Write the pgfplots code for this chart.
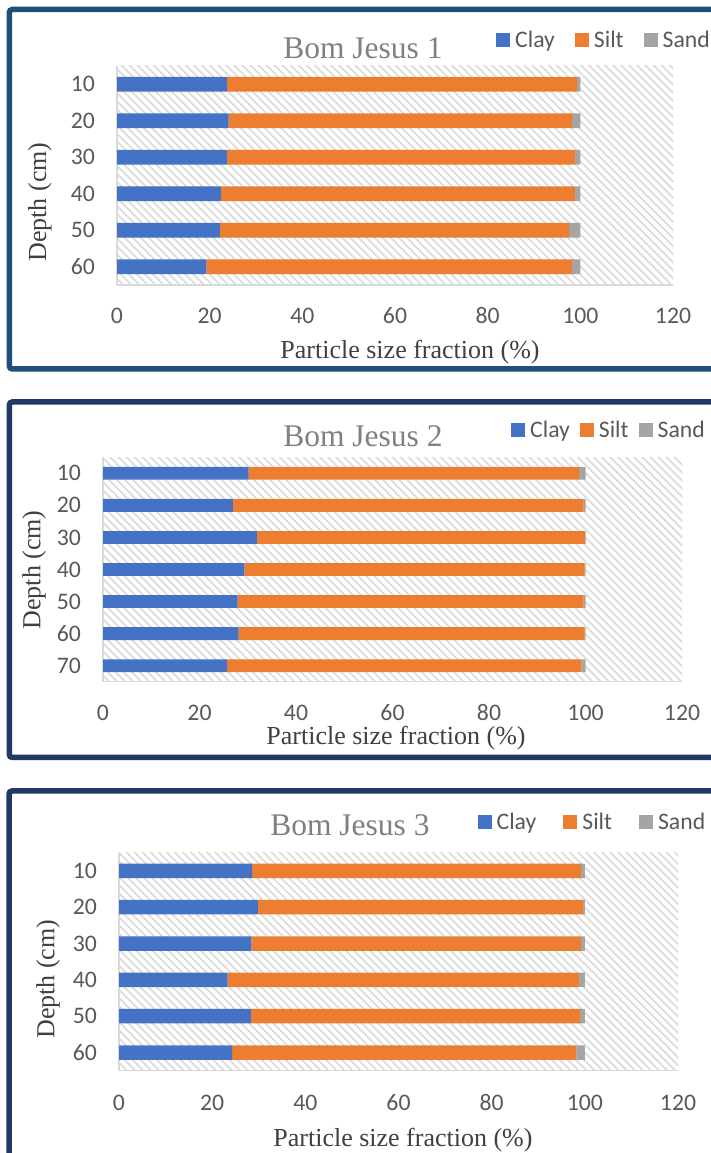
\documentclass[border=0pt]{standalone}
\usepackage{fontspec}
\setmainfont{Liberation Serif}
\newfontfamily\calib{Carlito}
\newfontfamily\timesf{Liberation Serif}
\usepackage{pgfplots}
\pgfplotsset{compat=1.18}
\usepackage{pgfplotstable}
\usetikzlibrary{patterns.meta}

\definecolor{clay}{HTML}{4472C4}
\definecolor{silt}{HTML}{ED7D31}
\definecolor{sand}{HTML}{A5A5A5}
\definecolor{tickgray}{HTML}{595959}
\definecolor{titlegray}{HTML}{808080}
\definecolor{labgray}{HTML}{404040}
\definecolor{frameA}{HTML}{1F4E79}
\definecolor{frameB}{HTML}{1F3864}

% depth profiles, pos = row from the bottom
\pgfplotstableread{
pos depth clay silt sand
6 10 23.7 75.6 0.7
5 20 24.1 74.1 1.8
4 30 23.7 75.1 1.2
3 40 22.4 76.4 1.2
2 50 22.2 75.4 2.4
1 60 19.3 78.9 1.8
}\bjone
\pgfplotstableread{
pos depth clay silt sand
7 10 30.2 68.5 1.3
6 20 26.9 72.7 0.4
5 30 31.9 68.0 0.1
4 40 29.3 70.5 0.2
3 50 27.9 71.7 0.4
2 60 28.1 71.7 0.2
1 70 25.7 73.5 0.8
}\bjtwo
\pgfplotstableread{
pos depth clay silt sand
6 10 28.6 70.6 0.8
5 20 29.8 69.8 0.4
4 30 28.4 70.8 0.8
3 40 23.3 75.4 1.3
2 50 28.3 70.7 1.0
1 60 24.3 73.9 1.8
}\bjthree

\newcommand\tickfont{\calib\fontsize{23.7}{28}\selectfont}

\pgfplotsset{
  bjstyle/.style={
    scale only axis,
    anchor=south west,
    xbar stacked,
    bar width=0.4,
    xmin=0, xmax=120,
    xtick={0,20,...,120},
    axis x line*=bottom, axis y line*=left,
    axis line style={-, draw=gray!30, line width=1.5pt},
    every outer x axis line/.append style={-},
    every outer y axis line/.append style={-},
    major tick length=0pt,
    tick style={draw=none},
    /pgf/number format/assume math mode=true,
    tick label style={font=\tickfont, text=tickgray},
    x tick label style={anchor=center, inner sep=0pt, yshift=-31pt},
    y tick label style={anchor=east, inner sep=0pt, xshift=-22pt},
    axis background/.style={pattern={Lines[angle=-45,distance=5.7pt,line width=1.6pt]}, pattern color=gray!30},
    label style={font=\timesf\fontsize{26}{30}\selectfont, text=labgray, inner sep=0pt},
    xlabel={Particle size fraction (\%)},
    ylabel={Depth (cm)},
    title style={font=\timesf\fontsize{31.5}{36}\selectfont, text=titlegray, anchor=center},
    legend style={draw=none, fill=none, legend columns=-1, inner sep=0pt,
      font=\tickfont, text=tickgray, anchor=west,
      nodes={inner sep=0pt},
      /tikz/every odd column/.append style={column sep=5pt}},
    legend image code/.code={\fill[##1] (0pt,-7pt) rectangle (14pt,7pt);},
  }
}

\begin{document}
\begin{tikzpicture}[x=1pt,y=1pt]
\useasboundingbox (0,0) rectangle (711,1153);
\fill[white] (0,0) rectangle (711,1153);
\begin{scope}
\clip (0,0) rectangle (711,1153);
\draw[frameA, line width=5.5pt, rounded corners=3pt] (9.3,1143.5) rectangle (730,784);
\draw[frameB, line width=5.5pt, rounded corners=3pt] (9.3,751) rectangle (730,395.5);
\draw[frameB, line width=5.5pt, rounded corners=3pt] (9.0,362) rectangle (730,-20);
\end{scope}

% Bom Jesus 1
\begin{axis}[bjstyle, at={(117pt,868pt)}, width=556pt, height=219pt,
  ymin=0.5, ymax=6.5, ytick={1,...,6}, yticklabels={60,50,40,30,20,10},
  title={Bom Jesus 1}, title style={at={(axis description cs:0.4424,1.055)}},
  xlabel style={at={(axis description cs:0.527,-0.306)}, anchor=center},
  ylabel style={at={(axis description cs:-0.1385,0.379)}, anchor=center},
  legend style={at={(axis description cs:0.6817,1.1187)},
    /tikz/every even column/.append style={column sep=20pt}}]
\addplot[fill=clay, draw=none] table[x=clay, y=pos] {\bjone};
\addplot[fill=silt, draw=none] table[x=silt, y=pos] {\bjone};
\addplot[fill=sand, draw=none] table[x=sand, y=pos] {\bjone};
\legend{Clay,Silt,Sand}
\end{axis}

% Bom Jesus 2
\begin{axis}[bjstyle, at={(103pt,471.3pt)}, width=579pt, height=224.4pt,
  ymin=0.5, ymax=7.5, ytick={1,...,7}, yticklabels={70,60,50,40,30,20,10},
  title={Bom Jesus 2}, title style={at={(axis description cs:0.449,1.065)}},
  xlabel style={at={(axis description cs:0.506,-0.253)}, anchor=center},
  ylabel style={at={(axis description cs:-0.119,0.498)}, anchor=center},
  legend style={at={(axis description cs:0.7047,1.1217)},
    /tikz/every even column/.append style={column sep=10pt}}]
\addplot[fill=clay, draw=none] table[x=clay, y=pos] {\bjtwo};
\addplot[fill=silt, draw=none] table[x=silt, y=pos] {\bjtwo};
\addplot[fill=sand, draw=none] table[x=sand, y=pos] {\bjtwo};
\legend{Clay,Silt,Sand}
\end{axis}

% Bom Jesus 3
\begin{axis}[bjstyle, at={(119pt,82.3pt)}, width=559pt, height=218pt,
  ymin=0.5, ymax=6.5, ytick={1,...,6}, yticklabels={60,50,40,30,20,10},
  x tick label style={yshift=-1pt},
  title={Bom Jesus 3}, title style={at={(axis description cs:0.4132,1.1)}},
  xlabel style={at={(axis description cs:0.508,-0.318)}, anchor=center},
  ylabel style={at={(axis description cs:-0.127,0.42)}, anchor=center},
  legend style={at={(axis description cs:0.6413,1.142)},
    /tikz/every even column/.append style={column sep=27pt}}]
\addplot[fill=clay, draw=none] table[x=clay, y=pos] {\bjthree};
\addplot[fill=silt, draw=none] table[x=silt, y=pos] {\bjthree};
\addplot[fill=sand, draw=none] table[x=sand, y=pos] {\bjthree};
\legend{Clay,Silt,Sand}
\end{axis}
\end{tikzpicture}
\end{document}
